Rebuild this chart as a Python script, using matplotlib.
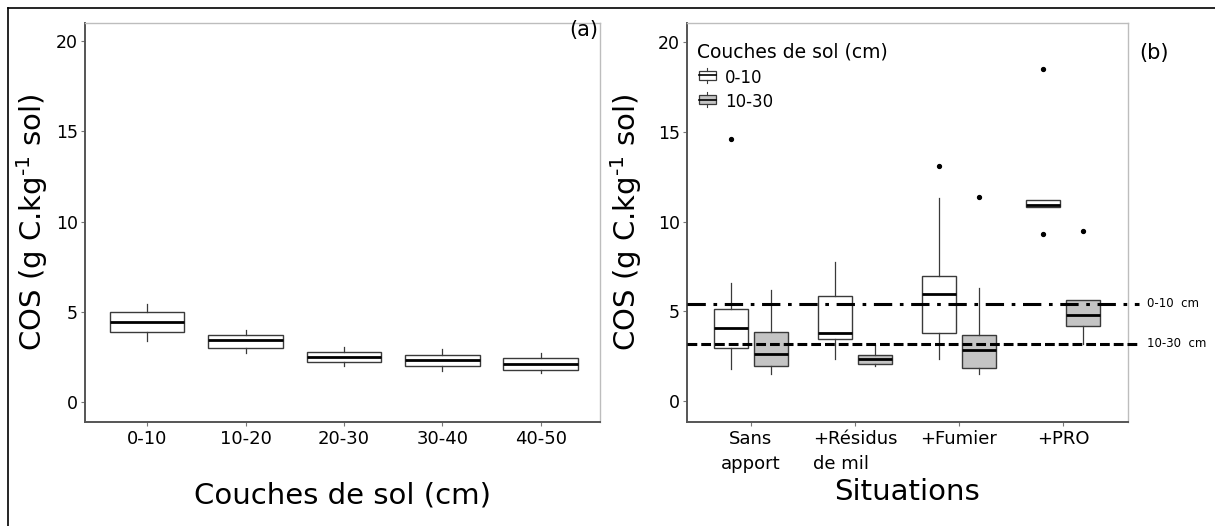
import matplotlib
matplotlib.use("Agg")
import matplotlib.pyplot as plt
from matplotlib.patches import Rectangle, Patch
from matplotlib.lines import Line2D
from matplotlib.legend_handler import HandlerBase
import matplotlib.transforms as mtransforms

plt.rcParams['font.family'] = ['DejaVu Sans']

# ---------------- Data: panel (a) ----------------
layers_a = ["0-10", "10-20", "20-30", "30-40", "40-50"]
a_whislo = [3.4, 2.7, 2.0, 1.7, 1.6]
a_q1     = [3.9, 3.0, 2.25, 2.0, 1.78]
a_med    = [4.45, 3.44, 2.51, 2.35, 2.13]
a_q3     = [5.0, 3.7, 2.77, 2.62, 2.44]
a_whishi = [5.45, 3.97, 3.03, 2.94, 2.72]

# ---------------- Data: panel (b) ----------------
situations = ["Sans\napport", "+Résidus\nde mil", "+Fumier", "+PRO"]
series_b = ["0-10", "10-30"]
# 0-10 cm
b1_whislo = [1.8, 2.33, 2.33, 10.83]
b1_q1     = [2.94, 3.48, 3.78, 10.83]
b1_med    = [4.09, 3.81, 5.95, 10.9]
b1_q3     = [5.12, 5.84, 6.96, 11.2]
b1_whishi = [6.6, 7.78, 11.3, 11.2]
b1_fliers = [[14.6], [], [13.1], [18.5, 9.3]]
# 10-30 cm
b2_whislo = [1.54, 1.95, 1.54, 3.2]
b2_q1     = [1.97, 2.08, 1.86, 4.2]
b2_med    = [2.66, 2.33, 2.83, 4.8]
b2_q3     = [3.83, 2.57, 3.68, 5.62]
b2_whishi = [6.18, 3.16, 6.29, 5.62]
b2_fliers = [[], [], [11.35], [9.49]]

ref_labels = ["0-10  cm", "10-30  cm"]
ref_values = [5.42, 3.2]
ref_styles = [(0, (6, 2.5, 1.2, 2.5)), (0, (3.2, 1.3))]

yticks = [0, 5, 10, 15, 20]

fill_colors = ["white", "#c4c4c4"]
edge = "#3a3a3a"
ylab = r"COS (g C.kg$^{\text{-1}}$ sol)"

def stats(whislo, q1, med, q3, whishi, fliers=None):
    out = []
    for i in range(len(med)):
        out.append(dict(whislo=whislo[i], q1=q1[i], med=med[i], q3=q3[i],
                        whishi=whishi[i],
                        fliers=(fliers[i] if fliers is not None else [])))
    return out

fig = plt.figure(figsize=(12.15, 5.26), dpi=100)

# outer frame lines (top and left)
fig.add_artist(Line2D([8/1215, 1.0], [1 - 8/526, 1 - 8/526], color="black", lw=1.2,
                      transform=fig.transFigure))
fig.add_artist(Line2D([8/1215, 8/1215], [0, 1 - 8/526], color="black", lw=1.2,
                      transform=fig.transFigure))

ax_a = fig.add_axes([85/1215, 1 - 422/526, 515/1215, 399/526])
ax_b = fig.add_axes([687/1215, 1 - 422/526, 441/1215, 399/526])

def style_axes(ax):
    for s in ["top", "right"]:
        ax.spines[s].set_color("#bdbdbd")
        ax.spines[s].set_linewidth(1.0)
    for s in ["left", "bottom"]:
        ax.spines[s].set_color("#555555")
        ax.spines[s].set_linewidth(1.4)
    ax.tick_params(axis="both", length=3, width=0.8, color="#777777")
    ax.tick_params(axis="y", labelsize=12.5, pad=2)
    ax.tick_params(axis="x", labelsize=13, pad=3)
    ax.set_yticks(yticks)
    ax.set_yticklabels([str(v) for v in yticks])

whiskerprops = dict(color=edge, linewidth=0.9)
medianprops = dict(color="black", linewidth=2.0)
flierprops = dict(marker="o", markersize=2.8, markerfacecolor="black",
                  markeredgecolor="black", linestyle="none")

# ---------------- Panel (a) ----------------
pos_a = list(range(1, len(layers_a) + 1))
ax_a.bxp(stats(a_whislo, a_q1, a_med, a_q3, a_whishi), positions=pos_a,
         widths=0.76, patch_artist=True, showcaps=False, showfliers=False,
         boxprops=dict(facecolor="white", edgecolor=edge, linewidth=1.0),
         whiskerprops=whiskerprops, medianprops=medianprops)
ax_a.set_xlim(0.37, 5.6)
ax_a.set_ylim(-1.1, 21.0)
style_axes(ax_a)
ax_a.set_xticks(pos_a)
ax_a.set_xticklabels(layers_a)
ax_a.set_ylabel(ylab, fontsize=21, labelpad=4)
ax_a.set_xlabel("Couches de sol (cm)", fontsize=21, labelpad=24)
ax_a.text(0.94, 0.982, "(a)", transform=ax_a.transAxes, fontsize=15,
          ha="left", va="center")

# ---------------- Panel (b) ----------------
pos_b = list(range(1, len(situations) + 1))
off = 0.19
w = 0.33
ax_b.bxp(stats(b1_whislo, b1_q1, b1_med, b1_q3, b1_whishi, b1_fliers),
         positions=[p - off for p in pos_b], widths=w, patch_artist=True,
         showcaps=False, showfliers=True,
         boxprops=dict(facecolor=fill_colors[0], edgecolor=edge, linewidth=1.0),
         whiskerprops=whiskerprops, medianprops=medianprops, flierprops=flierprops)
ax_b.bxp(stats(b2_whislo, b2_q1, b2_med, b2_q3, b2_whishi, b2_fliers),
         positions=[p + off for p in pos_b], widths=w, patch_artist=True,
         showcaps=False, showfliers=True,
         boxprops=dict(facecolor=fill_colors[1], edgecolor=edge, linewidth=1.0),
         whiskerprops=whiskerprops, medianprops=medianprops, flierprops=flierprops)

ax_b.set_xlim(0.385, 4.625)
ax_b.set_ylim(-1.15, 21.05)
style_axes(ax_b)
ax_b.set_xticks(pos_b)
ax_b.set_xticklabels(situations, linespacing=1.45)
for t in ax_b.get_xticklabels():
    if t.get_text().startswith("+Rés"):
        t.set_multialignment("left")
ax_b.set_ylabel(ylab, fontsize=21, labelpad=10)
ax_b.set_xlabel("Situations", fontsize=21, labelpad=4)

# reference lines extending a bit beyond the axes
trans = mtransforms.blended_transform_factory(ax_b.transAxes, ax_b.transData)
for val, ls, lab in zip(ref_values, ref_styles, ref_labels):
    ax_b.plot([0, 1.025], [val, val], transform=trans, color="black",
              lw=2.2, linestyle=ls, clip_on=False, zorder=5)
    ax_b.text(1.043, val, lab, transform=trans, fontsize=8.5, va="center",
              ha="left")

ax_b.text(1.025, 0.925, "(b)", transform=ax_b.transAxes, fontsize=15,
          ha="left", va="center")

# legend with mini boxplot glyphs
class BoxHandler(HandlerBase):
    def create_artists(self, legend, orig_handle, xdescent, ydescent, width,
                       height, fontsize, trans):
        fc = orig_handle.get_facecolor()
        bw = width * 0.85
        x0 = (width - bw) / 2
        bh = height * 0.6
        y0 = (height - bh) / 2
        rect = Rectangle((x0, y0), bw, bh, facecolor=fc, edgecolor=edge,
                         lw=0.9, transform=trans)
        med = Line2D([x0, x0 + bw], [height / 2, height / 2], color="black",
                     lw=1.2, transform=trans)
        xc = x0 + bw / 2
        w1 = Line2D([xc, xc], [y0 + bh, height * 1.0], color=edge, lw=0.8,
                    transform=trans)
        w2 = Line2D([xc, xc], [0, y0], color=edge, lw=0.8, transform=trans)
        return [rect, med, w1, w2]

handles = [Patch(facecolor=c, edgecolor=edge) for c in fill_colors]
leg = ax_b.legend(handles, series_b, handler_map={Patch: BoxHandler()},
                  title="Couches de sol (cm)", title_fontsize=13.5, fontsize=12,
                  loc="upper left", bbox_to_anchor=(0.0, 0.975), frameon=False,
                  alignment="left", handlelength=1.2, handleheight=1.0,
                  handletextpad=0.5, labelspacing=0.4, borderaxespad=0.2)

fig.savefig("out.png", dpi=100)
